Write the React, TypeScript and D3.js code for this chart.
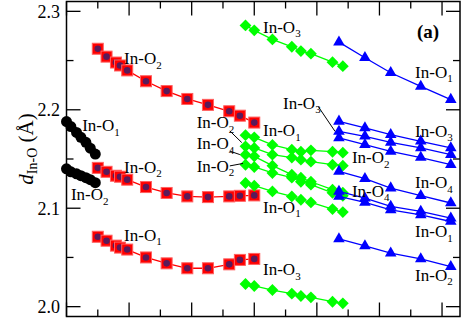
import React from "react";
import * as d3 from "d3";

const W = 463, H = 319;
const yTicksMajor = [2.0, 2.1, 2.2, 2.3];
const yTickLabels = ["2.0", "2.1", "2.2", "2.3"];

const blackX = [0, 0.07, 0.16, 0.23, 0.31, 0.38, 0.46];
const blackO1 = [2.188, 2.183, 2.177, 2.172, 2.167, 2.161, 2.155];
const blackO2 = [2.14, 2.137, 2.135, 2.133, 2.131, 2.129, 2.126];

const redX = [0.5, 0.64, 0.79, 0.855, 0.97, 1.27, 1.6, 1.93, 2.26, 2.6, 2.77, 3.0];
const redO2a = [2.262, 2.254, 2.248, 2.245, 2.24, 2.229, 2.219, 2.211, 2.205, 2.1985, 2.194, 2.187];
const redO2b = [2.141, 2.137, 2.133, 2.132, 2.129, 2.1215, 2.1155, 2.112, 2.1113, 2.112, 2.1126, 2.113];
const redO1 = [2.071, 2.067, 2.062, 2.06, 2.058, 2.05, 2.044, 2.039, 2.039, 2.043, 2.0475, 2.0485];

const greenX = [2.86, 3.0, 3.29, 3.6, 3.745, 3.905, 4.25, 4.415];
const greenO3a = [2.2857, 2.2807, 2.2715, 2.264, 2.2596, 2.257, 2.2484, 2.2443];
const greenO1a = [2.1742, 2.172, 2.1643, 2.1595, 2.1574, 2.1588, 2.1574, 2.1564];
const greenO2a = [2.1629, 2.1612, 2.1544, 2.1514, 2.1493, 2.1473, 2.1442, 2.1432];
const greenO4 = [2.1544, 2.1527, 2.1432, 2.1341, 2.131, 2.1269, 2.1188, 2.1157];
const greenO2b = [2.1442, 2.1419, 2.1358, 2.131, 2.1269, 2.1239, 2.1157, 2.1127];
const greenO1b = [2.1256, 2.1229, 2.1171, 2.112, 2.1086, 2.1059, 2.0991, 2.0961];
const greenO3b = [2.023, 2.021, 2.0169, 2.0132, 2.0108, 2.0095, 2.005, 2.0034];

const blueX = [4.353, 4.768, 5.18, 5.66, 6.14];
const blueO1a = [2.2687, 2.2529, 2.2376, 2.2238, 2.2104];
const blueO3a = [2.1883, 2.1816, 2.1748, 2.168, 2.1612];
const blueO3b = [2.1781, 2.1731, 2.1669, 2.1612, 2.1544];
const blueO2a = [2.1714, 2.1646, 2.1578, 2.1515, 2.1442];
const blueO4a = [2.1374, 2.13, 2.1205, 2.1127, 2.1053];
const blueO4b = [2.1171, 2.1103, 2.1018, 2.0967, 2.09];
const blueO1b = [2.112, 2.1059, 2.0984, 2.0933, 2.0865];
const blueO2b = [2.0689, 2.0618, 2.0544, 2.0486, 2.0407];

// labels: [text, subscript, x value, y value]
const labels: [string, string, number, number][] = [
  ["In-O", "1", 0.25, 2.178],
  ["In-O", "2", 0.07, 2.108],
  ["In-O", "2", 0.92, 2.2465],
  ["In-O", "2", 0.92, 2.136],
  ["In-O", "1", 0.92, 2.067],
  ["In-O", "3", 3.14, 2.2785],
  ["In-O", "1", 3.14, 2.173],
  ["In-O", "2", 2.08, 2.181],
  ["In-O", "4", 2.08, 2.16],
  ["In-O", "2", 2.08, 2.137],
  ["In-O", "1", 3.14, 2.0955],
  ["In-O", "3", 3.14, 2.032],
  ["In-O", "1", 5.57, 2.2325],
  ["In-O", "3", 3.46, 2.201],
  ["In-O", "3", 5.57, 2.1725],
  ["In-O", "2", 4.56, 2.1458],
  ["In-O", "4", 5.57, 2.1205],
  ["In-O", "4", 4.56, 2.1118],
  ["In-O", "1", 5.57, 2.0705],
  ["In-O", "2", 5.57, 2.0265],
];

// leader lines [x1,y1,x2,y2] in data units
const leaders: [number, number, number, number][] = [
  [2.61, 2.1785, 2.80, 2.1667],
  [2.61, 2.158, 2.77, 2.1545],
  [2.61, 2.143, 2.82, 2.1455],
  [4.02, 2.2035, 4.29, 2.1781],
];

const FONT = "'Liberation Serif', 'Times New Roman', Times, serif";

export default function App() {
  const x = d3.scaleLinear().domain([0, 6.287]).range([66.5, 460]);
  const y = d3.scaleLinear().domain([1.99, 2.31]).range([316.5, 1.5]);
  const line = (xs: number[], ys: number[]) =>
    d3.line<number>().x((_, i) => x(xs[i])).y((v) => y(v))(ys) || "";

  const xMajor = d3.range(0, 6.3, 1);
  const xMinor = d3.range(0.5, 6.3, 1);
  const yMinor = [2.05, 2.15, 2.25];

  const tri = d3.symbol().type(d3.symbolTriangle).size(58)() || "";
  const dia = d3.symbol().type(d3.symbolSquare).size(70)() || "";

  const blacks = [blackO1, blackO2];
  const reds = [redO2a, redO2b, redO1];
  const greens = [greenO3a, greenO1a, greenO2a, greenO4, greenO2b, greenO1b, greenO3b];
  const blues = [blueO1a, blueO3a, blueO3b, blueO2a, blueO4a, blueO4b, blueO1b, blueO2b];

  return (
    <svg width={W} height={H} style={{ position: "absolute", left: 0, top: 0, background: "#fff", fontFamily: FONT }}>
      {blacks.map((s, k) => (
        <g key={"b" + k}>
          <path d={line(blackX, s)} fill="none" stroke="#000" strokeWidth={1.2} />
          {s.map((v, i) => <circle key={i} cx={x(blackX[i])} cy={y(v)} r={5.5} fill="#000" />)}
        </g>
      ))}
      {reds.map((s, k) => (
        <g key={"r" + k}>
          <path d={line(redX, s)} fill="none" stroke="#ff0000" strokeWidth={1.3} />
          {s.map((v, i) => (
            <g key={i}>
              <rect x={x(redX[i]) - 5.5} y={y(v) - 5.5} width={11} height={11} fill="#ff0000" stroke="#ff6060" strokeWidth={1} />
              <circle cx={x(redX[i])} cy={y(v)} r={3.3} fill="#5a1a5a" />
            </g>
          ))}
        </g>
      ))}
      {greens.map((s, k) => (
        <g key={"g" + k}>
          <path d={line(greenX, s)} fill="none" stroke="#00ff00" strokeWidth={1.3} />
          {s.map((v, i) => (
            <path key={i} d={dia} transform={`translate(${x(greenX[i])},${y(v)}) rotate(45)`} fill="#00ff00" />
          ))}
        </g>
      ))}
      {blues.map((s, k) => (
        <g key={"bl" + k}>
          <path d={line(blueX, s)} fill="none" stroke="#0000ff" strokeWidth={1.3} />
          {s.map((v, i) => (
            <path key={i} d={tri} transform={`translate(${x(blueX[i])},${y(v)})`} fill="#0000ff" />
          ))}
        </g>
      ))}

      {leaders.map((l, i) => (
        <line key={i} x1={x(l[0])} y1={y(l[1])} x2={x(l[2])} y2={y(l[3])} stroke="#000" strokeWidth={1} />
      ))}

      {labels.map((l, i) => (
        <text key={i} x={x(l[2])} y={y(l[3])} fontSize={17} fill="#000" style={{ fontFamily: FONT }}>
          {l[0]}
          <tspan fontSize={11} dy={4.5}>{l[1]}</tspan>
        </text>
      ))}

      <rect x={66.5} y={1.5} width={393.5} height={315} fill="none" stroke="#000" strokeWidth={1.5} />
      {xMajor.map((v) => (
        <g key={"xm" + v}>
          <line x1={x(v)} x2={x(v)} y1={316.5} y2={302.5} stroke="#000" strokeWidth={1.3} />
          <line x1={x(v)} x2={x(v)} y1={1.5} y2={15.5} stroke="#000" strokeWidth={1.3} />
        </g>
      ))}
      {xMinor.map((v) => (
        <g key={"xn" + v}>
          <line x1={x(v)} x2={x(v)} y1={316.5} y2={309.5} stroke="#000" strokeWidth={1.3} />
          <line x1={x(v)} x2={x(v)} y1={1.5} y2={8.5} stroke="#000" strokeWidth={1.3} />
        </g>
      ))}
      {yTicksMajor.map((v, i) => (
        <g key={"ym" + v}>
          <line x1={66.5} x2={80.5} y1={y(v)} y2={y(v)} stroke="#000" strokeWidth={1.3} />
          <line x1={460} x2={446} y1={y(v)} y2={y(v)} stroke="#000" strokeWidth={1.3} />
          <text x={60} y={y(v)} dy="0.35em" textAnchor="end" fontSize={18} style={{ fontFamily: FONT }}>{yTickLabels[i]}</text>
        </g>
      ))}
      {yMinor.map((v) => (
        <g key={"yn" + v}>
          <line x1={66.5} x2={73.5} y1={y(v)} y2={y(v)} stroke="#000" strokeWidth={1.3} />
          <line x1={460} x2={453} y1={y(v)} y2={y(v)} stroke="#000" strokeWidth={1.3} />
        </g>
      ))}

      <text transform="translate(33,149) rotate(-90)" textAnchor="middle" fontSize={21} style={{ fontFamily: FONT }}>
        <tspan fontStyle="italic">d</tspan>
        <tspan fontSize={14} dy={4}>In-O</tspan>
        <tspan dy={-4}> (Å)</tspan>
      </text>

      <text x={417} y={38} fontSize={19} fontWeight="bold" style={{ fontFamily: FONT }}>(a)</text>
    </svg>
  );
}
